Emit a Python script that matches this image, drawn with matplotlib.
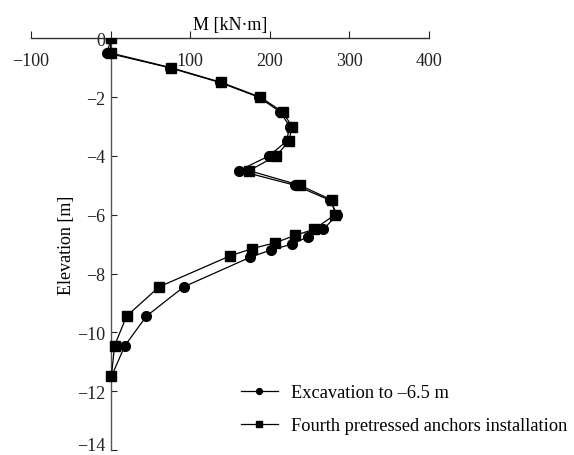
import numpy as np
import matplotlib
matplotlib.use('Agg')
import matplotlib.pyplot as plt

plt.rcParams['font.family'] = ['Liberation Serif', 'DejaVu Serif']

# 数据：弯矩 M [kN·m] 与高程 [m]
elev_exc = [0, -0.5, -1.0, -1.5, -2.0, -2.5, -3.0, -3.5, -4.0, -4.5, -5.0, -5.5,
            -6.0, -6.5, -6.75, -7.0, -7.2, -7.45, -8.45, -9.45, -10.45, -11.5]
m_exc = [0, -4, 74, 137, 186, 213, 225, 221, 199, 161, 232, 275,
         285, 267, 248, 228, 201, 175, 92, 45, 18, 1]

elev_anc = [0, -0.5, -1.0, -1.5, -2.0, -2.5, -3.0, -3.5, -4.0, -4.5, -5.0, -5.5,
            -6.0, -6.5, -6.7, -6.95, -7.15, -7.4, -8.45, -9.45, -10.45, -11.5]
m_anc = [0, 0, 76, 139, 188, 216, 228, 224, 208, 174, 238, 278,
         282, 255, 232, 207, 178, 150, 61, 20, 5, 1]

x_ticks = [-100, 0, 100, 200, 300, 400]
x_labels = ['\u2212100', '', '100', '200', '300', '400']
y_ticks = [0, -2, -4, -6, -8, -10, -12, -14]
y_labels = ['0'] + ['\u2212%d' % abs(v) for v in y_ticks[1:]]

fig = plt.figure(figsize=(5.74, 4.56), dpi=100)
ax = fig.add_axes([31 / 574, 1 - 451 / 456, (429 - 31) / 574, (451 - 39.3) / 456])

ax.plot(m_exc, elev_exc, color='black', lw=0.9, marker='o', ms=7,
        label='Excavation to \u20136.5 m', zorder=3)
ax.plot(m_anc, elev_anc, color='black', lw=0.9, marker='s', ms=7.5,
        label='Fourth pretressed anchors installation', zorder=4)

ax.set_xlim(-100, 400)
ax.set_ylim(-14, 0)

# 坐标轴样式
for s in ['top', 'right']:
    ax.spines[s].set_visible(False)
ax.spines['bottom'].set_position(('data', 0))
ax.spines['left'].set_position(('data', 0))
ax.spines['bottom'].set_color('#333333')
ax.spines['left'].set_color('#555555')
ax.spines['bottom'].set_linewidth(1.0)
ax.spines['left'].set_linewidth(1.0)

ax.set_xticks(x_ticks)
ax.set_xticklabels(x_labels)
ax.set_yticks(y_ticks)
ax.set_yticklabels(y_labels)
ax.tick_params(axis='x', direction='in', length=5, pad=10, labelsize=13, colors='#222222')
ax.tick_params(axis='y', direction='in', length=4, pad=4, labelsize=13, colors='#222222')
ax.get_yticklabels()[-1].set_va('baseline')

ax.set_xlabel('M [kN\u00b7m]', fontsize=13, labelpad=7)
ax.xaxis.set_label_position('top')
ax.set_ylabel('Elevation [m]', fontsize=13, labelpad=1)

leg = ax.legend(loc='center left', bbox_to_anchor=(241 / 574, 1 - 410 / 456),
                bbox_transform=fig.transFigure, frameon=False, fontsize=13.2,
                borderpad=0, borderaxespad=0, handlelength=2.0, handletextpad=0.72,
                labelspacing=0.88, markerscale=0.6)

fig.savefig('out.png', dpi=100)
